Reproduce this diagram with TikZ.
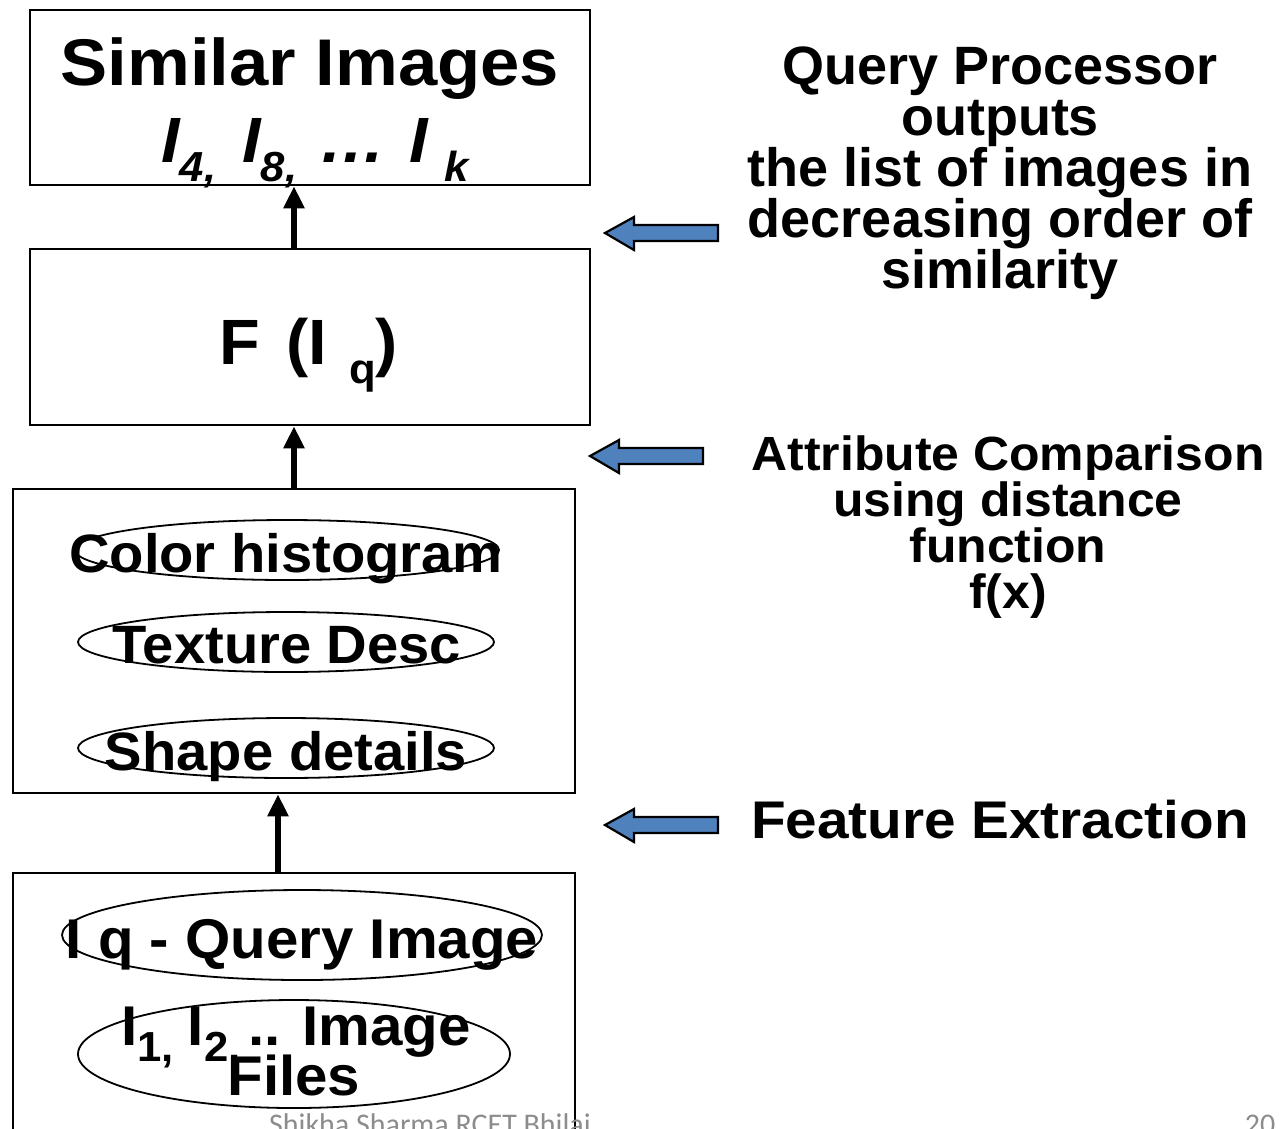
\documentclass[tikz,border=0pt]{standalone}
\usepackage{fontspec}
\setmainfont{Liberation Sans}
\newfontfamily\widefont{Liberation Sans}[FakeStretch=1.04]
\newfontfamily\widerfont{Liberation Sans}[FakeStretch=1.07]
\newfontfamily\footfont{Carlito}
\usetikzlibrary{shapes.geometric,arrows.meta}
\definecolor{pointerblue}{HTML}{4F81BD}
\definecolor{footgray}{HTML}{8C8C8C}
\newcommand{\lowidx}[1]{\raisebox{-0.3em}{\fontsize{42}{42}\selectfont #1}}
\tikzset{
  stage/.style={draw, line width=2.6pt, inner sep=0pt, minimum width=#1},
  oval/.style={draw, ellipse, line width=1.8pt, inner sep=0pt},
  big/.style={font=\fontsize{64}{64}\selectfont\widefont\bfseries, inner sep=0pt, anchor=base},
  mid/.style={font=\fontsize{#1}{#1}\selectfont\widefont\bfseries, inner sep=0pt, anchor=base},
  flow/.style={line width=6pt, -{Triangle[length=22pt,width=20pt]}},
  pointer/.style={draw=black, line width=2.2pt, fill=pointerblue, line join=miter}
}
\begin{document}
\begin{tikzpicture}[x=1pt,y=-1pt]
\useasboundingbox (0,0) rectangle (1281,1128);
\clip (0,0) rectangle (1281,1128);

% stage boxes
\node[stage=560, minimum height=175] (out) at (310,97.5) {};
\node[stage=560, minimum height=176] (fun) at (310,337) {};
\node[stage=562, minimum height=304] (feat) at (294,641) {};
\node[stage=562, minimum height=267] (inp) at (294,1006.5) {};

% stage texts
\node[big, font=\fontsize{66}{66}\selectfont\widerfont\bfseries] (simtitle) at (310,85) {Similar Images};
\node[big, font=\fontsize{64}{64}\selectfont\widefont\bfseries\itshape] (simlist) at (315,162)
  {I\lowidx{4,}\hspace{26pt}I\lowidx{8,}\hspace{22pt}\dots\hspace{24pt}I\hspace{16pt}\lowidx{k}};
\node[big] (fq) at (309,364) {F\hspace{26pt}(I\hspace{22pt}\lowidx{q})};

% feature ellipses
\node[oval, minimum width=424, minimum height=60] (ecol) at (287,550) {};
\node[oval, minimum width=416, minimum height=60] (etex) at (286,642) {};
\node[oval, minimum width=416, minimum height=60] (eshp) at (286,748) {};
\node[mid=54] (tcol) at (286,572) {Color histogram};
\node[mid=54] (ttex) at (287,663) {Texture Desc};
\node[mid=54] (tshp) at (286,770) {Shape details};

% input ellipses
\node[oval, minimum width=480, minimum height=90] (eq) at (302,935) {};
\node[oval, minimum width=432, minimum height=108] (ef) at (294,1054) {};
\node[mid=56] (tq) at (302,958) {I q - Query Image};
\node[mid=56] (tf1) at (296,1045) {I\lowidx{1,}\hspace{14pt}I\lowidx{2,}\hspace{8pt}.. Image};
\node[mid=56] (tf2) at (294,1095) {Files};

% flow between stages
\coordinate (ax) at (294,0);
\coordinate (bx) at (278,0);
\draw[flow] (ax |- fun.north) -- (ax |- out.south);
\draw[flow] (ax |- feat.north) -- (ax |- fun.south);
\draw[flow] (bx |- inp.north) -- (bx |- feat.south);

% pointers
\draw[pointer] (605,233) -- (634,217) -- (634,225) -- (718,225) -- (718,241) -- (634,241) -- (634,250) -- cycle;
\draw[pointer] (590,456) -- (619,440) -- (619,448) -- (703,448) -- (703,464) -- (619,464) -- (619,473) -- cycle;
\draw[pointer] (605,825) -- (634,809) -- (634,817) -- (718,817) -- (718,833) -- (634,833) -- (634,842) -- cycle;

% descriptions
\node[inner sep=0pt, align=center, anchor=north, font=\fontsize{54}{51}\selectfont\bfseries] (dq) at (1000,47)
  {Query Processor\\outputs\\the list of images in\\decreasing order of\\similarity};
\node[inner sep=0pt, align=center, anchor=north, font=\fontsize{48}{46}\selectfont\widefont\bfseries] (da) at (1008,436)
  {Attribute Comparison\\using distance\\function\\f(x)};
\node[inner sep=0pt, anchor=base, font=\fontsize{53}{53}\selectfont\widerfont\bfseries] (df) at (1000,838) {Feature Extraction};

% footer
\node[inner sep=0pt, anchor=base, text=footgray, font=\fontsize{30}{30}\selectfont\footfont] (foot) at (430,1134) {Shikha Sharma RCET Bhilai};
\node[inner sep=0pt, anchor=base, text=footgray, font=\fontsize{30}{30}\selectfont\footfont] (pg) at (1260,1134) {20};
\end{tikzpicture}
\end{document}
